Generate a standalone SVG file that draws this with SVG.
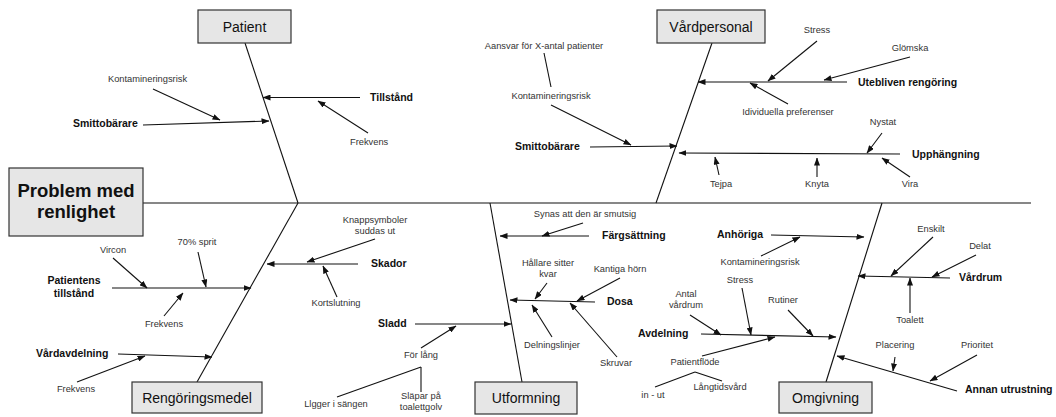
<svg xmlns="http://www.w3.org/2000/svg" width="1056" height="417" viewBox="0 0 1056 417">
<style>
.box{fill:#e6e6e6;stroke:#333;stroke-width:1.2}
text{font-family:"Liberation Sans",Arial,sans-serif}
.bt{font-size:14px;fill:#111;text-anchor:middle}
.title{font-size:18.5px;font-weight:bold;fill:#111;text-anchor:middle}
.c{font-size:10.5px;font-weight:bold;fill:#111}
.s{font-size:9.3px;fill:#333}
.m{text-anchor:middle}
.ln{stroke:#111;stroke-width:1.1;fill:none}
.a{marker-end:url(#ah)}
</style>
<defs>
<marker id="ah" markerUnits="userSpaceOnUse" markerWidth="8" markerHeight="6" refX="7.5" refY="3" orient="auto">
<path d="M0,0 L8,3 L0,6 z" fill="#111"/>
</marker>
</defs>
<rect width="1056" height="417" fill="#fff"/>

<g id="connectors">
<!-- spine and bones -->
<line class="ln" x1="143" y1="203" x2="1031" y2="203"/>
<line class="ln" x1="245" y1="43" x2="298" y2="203"/>
<line class="ln" x1="298" y1="203" x2="197" y2="382"/>
<line class="ln" x1="712" y1="43" x2="656" y2="203"/>
<line class="ln" x1="490" y1="203" x2="522" y2="382"/>
<line class="ln" x1="882" y1="203" x2="826" y2="382"/>
<!-- Patient -->
<line class="ln a" x1="360" y1="97.5" x2="263" y2="97.5"/>
<line class="ln a" x1="368" y1="133" x2="318" y2="101"/>
<line class="ln a" x1="143" y1="125" x2="269" y2="121"/>
<line class="ln a" x1="153" y1="89" x2="220" y2="120"/>
<!-- Vårdpersonal -->
<line class="ln" x1="544" y1="53" x2="551" y2="87"/>
<line class="ln a" x1="551" y1="105" x2="631" y2="145"/>
<line class="ln a" x1="590" y1="147" x2="677" y2="146"/>
<line class="ln a" x1="847" y1="82" x2="698" y2="82"/>
<line class="ln a" x1="817" y1="41" x2="768" y2="81"/>
<line class="ln a" x1="910" y1="57" x2="824" y2="80"/>
<line class="ln a" x1="788" y1="104" x2="750" y2="83"/>
<line class="ln a" x1="900" y1="154" x2="679" y2="153"/>
<line class="ln a" x1="882" y1="133" x2="867" y2="153"/>
<line class="ln a" x1="719" y1="175" x2="715" y2="157"/>
<line class="ln a" x1="817" y1="177" x2="817" y2="158"/>
<line class="ln a" x1="910" y1="177" x2="882" y2="158"/>
<!-- Rengöringsmedel -->
<line class="ln a" x1="112" y1="288" x2="251" y2="288"/>
<line class="ln a" x1="113" y1="258" x2="147" y2="288"/>
<line class="ln a" x1="198" y1="252" x2="206" y2="287"/>
<line class="ln a" x1="164" y1="316" x2="183" y2="293"/>
<line class="ln a" x1="118" y1="354" x2="212" y2="357"/>
<line class="ln a" x1="77" y1="382" x2="145" y2="356"/>
<line class="ln a" x1="358" y1="264" x2="267" y2="264"/>
<line class="ln a" x1="375" y1="239" x2="307" y2="262"/>
<line class="ln a" x1="337" y1="297" x2="323" y2="266"/>
<!-- Utformning -->
<line class="ln a" x1="415" y1="324" x2="511" y2="324"/>
<line class="ln a" x1="421" y1="348" x2="456" y2="326"/>
<line class="ln" x1="421" y1="367" x2="337" y2="397"/>
<line class="ln" x1="421" y1="367" x2="421" y2="392"/>
<line class="ln a" x1="589" y1="236" x2="500" y2="236"/>
<line class="ln a" x1="583" y1="223" x2="542" y2="236"/>
<line class="ln a" x1="595" y1="302" x2="510" y2="300"/>
<line class="ln a" x1="547" y1="283" x2="535" y2="299"/>
<line class="ln a" x1="620" y1="278" x2="577" y2="301"/>
<line class="ln a" x1="552" y1="337" x2="532" y2="305"/>
<line class="ln a" x1="617" y1="357" x2="570" y2="303"/>
<!-- Omgivning -->
<line class="ln a" x1="771" y1="235" x2="864" y2="237"/>
<line class="ln a" x1="761" y1="256" x2="800" y2="237"/>
<line class="ln a" x1="950" y1="278" x2="858" y2="276"/>
<line class="ln a" x1="933" y1="237" x2="891" y2="276"/>
<line class="ln a" x1="976" y1="255" x2="932" y2="277"/>
<line class="ln a" x1="910" y1="313" x2="910" y2="278"/>
<line class="ln a" x1="701" y1="334" x2="836" y2="337"/>
<line class="ln a" x1="690" y1="315" x2="721" y2="335"/>
<line class="ln a" x1="742" y1="288" x2="751" y2="335"/>
<line class="ln a" x1="788" y1="310" x2="813" y2="336"/>
<line class="ln a" x1="702" y1="356" x2="775" y2="337"/>
<line class="ln" x1="695" y1="372" x2="655" y2="387"/>
<line class="ln" x1="695" y1="372" x2="722" y2="381"/>
<line class="ln a" x1="957" y1="391" x2="837" y2="356"/>
<line class="ln a" x1="895" y1="357" x2="893" y2="371"/>
<line class="ln a" x1="977" y1="355" x2="930" y2="381"/>
</g>

<g id="problem">
<rect class="box" x="9" y="168" width="134" height="68"/>
<text class="title" x="76" y="197">Problem med</text>
<text class="title" x="76" y="218">renlighet</text>
</g>
<g id="patient">
<rect class="box" x="198" y="10" width="93" height="33"/>
<text class="bt" x="244.5" y="32">Patient</text>
</g>
<g id="vardpersonal">
<rect class="box" x="657" y="10" width="108" height="33"/>
<text class="bt" x="711" y="32">Vårdpersonal</text>
</g>
<g id="rengoringsmedel">
<rect class="box" x="132" y="382" width="130" height="31"/>
<text class="bt" x="197" y="403">Rengöringsmedel</text>
</g>
<g id="utformning">
<rect class="box" x="475" y="382" width="102" height="32"/>
<text class="bt" x="526" y="403">Utformning</text>
</g>
<g id="omgivning">
<rect class="box" x="779" y="382" width="93" height="31"/>
<text class="bt" x="825.5" y="403">Omgivning</text>
</g>

<g id="patient-causes">
<text class="c" x="370" y="101">Tillstånd</text>
<text class="s" x="350" y="145">Frekvens</text>
<text class="c" x="73" y="127">Smittobärare</text>
<text class="s" x="108" y="82">Kontamineringsrisk</text>
</g>
<g id="vardpersonal-causes">
<text class="s m" x="544" y="49">Aansvar för X-antal patienter</text>
<text class="s m" x="551" y="99">Kontamineringsrisk</text>
<text class="c" x="515" y="150">Smittobärare</text>
<text class="c" x="858" y="86">Utebliven rengöring</text>
<text class="s m" x="817" y="33">Stress</text>
<text class="s m" x="910" y="51">Glömska</text>
<text class="s m" x="788" y="115">Idividuella preferenser</text>
<text class="c" x="912" y="158">Upphängning</text>
<text class="s m" x="883" y="125">Nystat</text>
<text class="s m" x="721" y="187">Tejpa</text>
<text class="s m" x="817" y="187">Knyta</text>
<text class="s m" x="910" y="187">Vira</text>
</g>
<g id="rengoringsmedel-causes">
<text class="c m" x="74" y="284">Patientens</text>
<text class="c m" x="74" y="297">tillstånd</text>
<text class="s m" x="113" y="253">Vircon</text>
<text class="s m" x="197" y="245">70% sprit</text>
<text class="s m" x="164" y="327">Frekvens</text>
<text class="c" x="36" y="357">Vårdavdelning</text>
<text class="s m" x="76" y="392">Frekvens</text>
<text class="c" x="371" y="267">Skador</text>
<text class="s m" x="375" y="223">Knappsymboler</text>
<text class="s m" x="375" y="234">suddas ut</text>
<text class="s m" x="336" y="306">Kortslutning</text>
</g>
<g id="utformning-causes">
<text class="c" x="378" y="327">Sladd</text>
<text class="s m" x="421" y="358">För lång</text>
<text class="s m" x="336" y="407">Llgger i sängen</text>
<text class="s m" x="421" y="399">Släpar på</text>
<text class="s m" x="421" y="410">toalettgolv</text>
<text class="c" x="602" y="239">Färgsättning</text>
<text class="s m" x="585" y="217">Synas att den är smutsig</text>
<text class="c" x="607" y="305">Dosa</text>
<text class="s m" x="548" y="266">Hållare sitter</text>
<text class="s m" x="548" y="277">kvar</text>
<text class="s m" x="620" y="272">Kantiga hörn</text>
<text class="s m" x="552" y="348">Delningslinjer</text>
<text class="s m" x="616" y="366">Skruvar</text>
</g>
<g id="omgivning-causes">
<text class="c" x="717" y="238">Anhöriga</text>
<text class="s m" x="760" y="265">Kontamineringsrisk</text>
<text class="c" x="959" y="281">Vårdrum</text>
<text class="s m" x="931" y="232">Enskilt</text>
<text class="s m" x="980" y="249">Delat</text>
<text class="s m" x="910" y="323">Toalett</text>
<text class="c" x="638" y="337">Avdelning</text>
<text class="s m" x="686" y="297">Antal</text>
<text class="s m" x="686" y="308">vårdrum</text>
<text class="s m" x="740" y="283">Stress</text>
<text class="s m" x="783" y="303">Rutiner</text>
<text class="s m" x="695" y="365">Patientflöde</text>
<text class="s m" x="653" y="398">in - ut</text>
<text class="s m" x="720" y="390">Långtidsvård</text>
<text class="c" x="965" y="393">Annan utrustning</text>
<text class="s m" x="895" y="348">Placering</text>
<text class="s m" x="977" y="348">Prioritet</text>
</g>
</svg>
